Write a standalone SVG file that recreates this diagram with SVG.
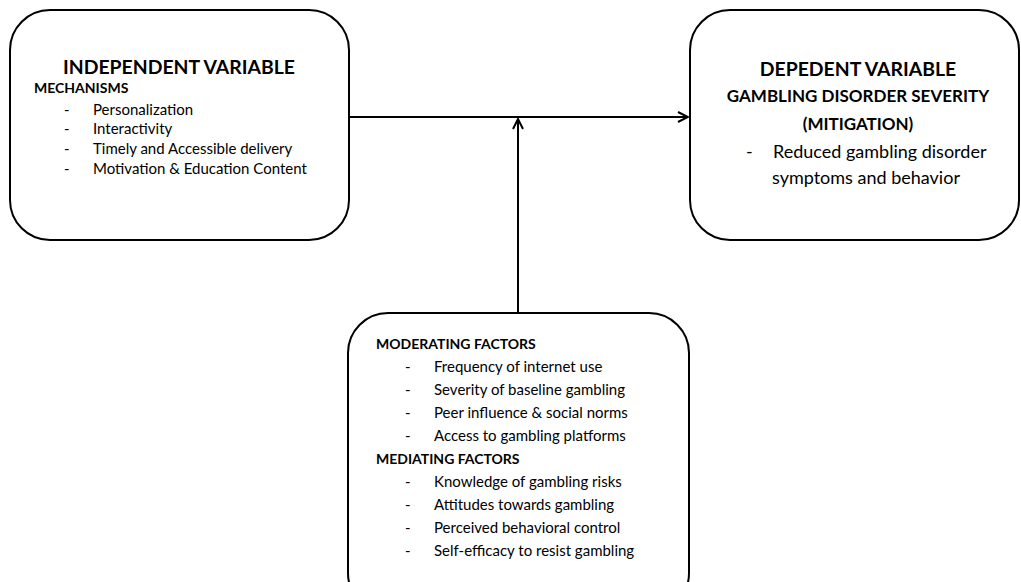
<svg xmlns="http://www.w3.org/2000/svg" width="1021" height="582" viewBox="0 0 1021 582">
<style>
.box{fill:#fff;stroke:#000;stroke-width:2}
.t{font-family:Lato,"Open Sans",sans-serif;fill:#000}
.h1{font-size:19.4px;font-weight:bold}
.h2{font-size:17px;font-weight:bold}
.h3{font-size:14px;font-weight:bold}
.i{font-size:15px}
.i2{font-size:18px}
.c{fill:none;stroke:#000;stroke-width:2}
</style>
<defs>
<marker id="arr" viewBox="0 0 12 12" refX="11" refY="6" markerWidth="12" markerHeight="12" markerUnits="userSpaceOnUse" orient="auto">
<path d="M1,1 L11,6 L1,11" fill="none" stroke="#000" stroke-width="2"/>
</marker>
</defs>
<rect width="1021" height="582" fill="#fff"/>
<g id="independent">
<rect class="box" x="10" y="10" width="339" height="230" rx="40" ry="40"/>
<text class="t h1" x="179" y="74" text-anchor="middle">INDEPENDENT VARIABLE</text>
<text class="t h3" x="34" y="93">MECHANISMS</text>
<g class="t i">
<text x="64" y="115">-</text><text x="93" y="115">Personalization</text>
<text x="64" y="134">-</text><text x="93" y="134">Interactivity</text>
<text x="64" y="154">-</text><text x="93" y="154">Timely and Accessible delivery</text>
<text x="64" y="174">-</text><text x="93" y="174">Motivation &amp; Education Content</text>
</g>
</g>
<g id="dependent">
<rect class="box" x="690" y="10" width="329" height="230" rx="40" ry="40"/>
<text class="t h1" x="858" y="76" text-anchor="middle">DEPEDENT VARIABLE</text>
<text class="t h2" x="858" y="102" text-anchor="middle">GAMBLING DISORDER SEVERITY</text>
<text class="t h2" x="858" y="130" text-anchor="middle">(MITIGATION)</text>
<g class="t i2">
<text x="746" y="158">-</text><text x="773" y="158">Reduced gambling disorder</text>
<text x="772" y="184">symptoms and behavior</text>
</g>
</g>
<g id="factors">
<rect class="box" x="348" y="313" width="341" height="300" rx="40" ry="40"/>
<text class="t h3" x="376" y="349">MODERATING FACTORS</text>
<g class="t i">
<text x="405" y="372">-</text><text x="434" y="372">Frequency of internet use</text>
<text x="405" y="395">-</text><text x="434" y="395">Severity of baseline gambling</text>
<text x="405" y="418">-</text><text x="434" y="418">Peer influence &amp; social norms</text>
<text x="405" y="441">-</text><text x="434" y="441">Access to gambling platforms</text>
</g>
<text class="t h3" x="376" y="464">MEDIATING FACTORS</text>
<g class="t i">
<text x="405" y="487">-</text><text x="434" y="487">Knowledge of gambling risks</text>
<text x="405" y="510">-</text><text x="434" y="510">Attitudes towards gambling</text>
<text x="405" y="533">-</text><text x="434" y="533">Perceived behavioral control</text>
<text x="405" y="556">-</text><text x="434" y="556">Self-efficacy to resist gambling</text>
</g>
</g>
<g id="connectors">
<path class="c" d="M349,117 L688,117" marker-end="url(#arr)"/>
<path class="c" d="M518,313 L518,119" marker-end="url(#arr)"/>
</g>
</svg>
